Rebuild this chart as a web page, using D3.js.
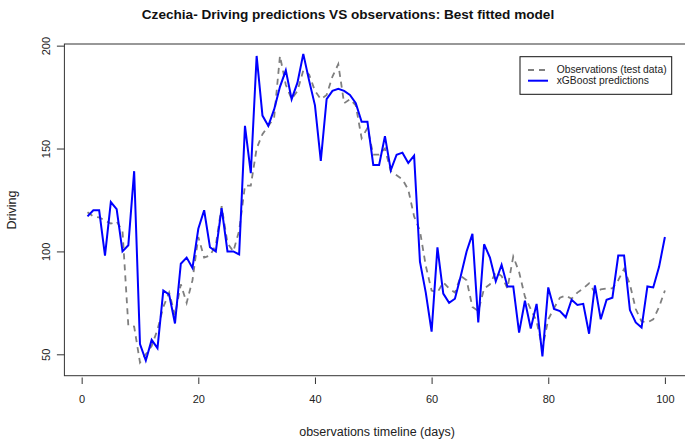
<!DOCTYPE html>
<html>
<head>
<meta charset="utf-8">
<script src="https://cdn.jsdelivr.net/npm/d3@7"></script>
<style>
  body { margin: 0; background: #fff; }
  text { font-family: "Liberation Sans", Arial, sans-serif; }
</style>
</head>
<body>
<div id="my_dataviz"></div>
<script>
// values, one per day (1..100)
var observations = [
  119, 117, 116.5, 115, 113.5, 114.5, 110, 64, 63.5, 46,
  50, 54, 62, 73, 80, 69, 84, 75, 86, 107,
  97, 98, 103, 122, 104, 100, 110, 132, 132, 150,
  157, 161, 165, 195, 181, 174, 178, 188, 186, 178,
  174, 176, 185, 191, 172, 174, 171, 155, 160, 147,
  147, 150, 139, 137, 135, 130, 117, 110, 93, 81,
  80, 85, 82, 80, 88, 86, 73, 71, 82, 84,
  90, 88, 82, 97.5, 90, 78, 72, 66, 53, 67,
  72.5, 77.5, 78.5, 77, 80, 82, 84.5, 80, 81.5, 82,
  82, 86, 91.5, 84, 72, 66, 65.5, 67, 73, 81
];
var predictions = [
  117, 120, 120, 98, 124, 120.5, 100, 103, 139, 55,
  47, 57, 53, 81, 79, 65, 94, 97, 92, 111,
  120, 102, 100, 121, 100, 100, 98.5, 161, 138, 195,
  166, 161, 169, 180, 188, 174, 182, 196, 183, 171,
  144, 174, 178, 179, 178, 176, 172, 163, 163, 142,
  142, 156, 139.5, 147, 148, 143, 146.5, 95, 80, 61,
  102, 79.5, 75, 77, 88, 100, 108.5, 65.5, 103.5, 97,
  85.5, 93.5, 83, 83, 60.5, 76, 62.5, 74.5, 49, 82.5,
  72, 71, 68, 76.5, 74, 74.5, 60, 83.5, 67, 76.5,
  77.5, 98, 98, 71.5, 65.5, 63, 83, 82.5, 92.5, 107
];
var xTicks = [0, 20, 40, 60, 80, 100];
var yTicks = [50, 100, 150, 200];
var legendLabels = ["Observations (test data)", "xGBoost predictions"];

const width = 685,
  height = 445;

const svg = d3
  .select("#my_dataviz")
  .append("svg")
  .attr("width", width)
  .attr("height", height);

// R style: data range padded by 4%
var x = d3.scaleLinear().domain([-2.96, 103.96]).range([64.4, 688]);
var y = d3.scaleLinear().domain([39.6, 200.8]).range([375.7, 44]);

// title
svg
  .append("text")
  .attr("x", 348)
  .attr("y", 19.3)
  .attr("text-anchor", "middle")
  .attr("font-size", "13.6px")
  .attr("font-weight", "bold")
  .attr("fill", "#111")
  .text("Czechia- Driving predictions VS observations: Best fitted model");

// lines
var line = d3
  .line()
  .x(function (d, i) {
    return x(i + 1);
  })
  .y(function (d) {
    return y(d);
  });

svg
  .append("path")
  .datum(observations)
  .attr("d", line)
  .attr("fill", "none")
  .attr("stroke", "#7f7f7f")
  .attr("stroke-width", 1.8)
  .attr("stroke-dasharray", "6,5");

svg
  .append("path")
  .datum(predictions)
  .attr("d", line)
  .attr("fill", "none")
  .attr("stroke", "#0000ff")
  .attr("stroke-width", 2);

// plot box
svg
  .append("rect")
  .attr("x", x.range()[0])
  .attr("y", y.range()[1])
  .attr("width", x.range()[1] - x.range()[0])
  .attr("height", y.range()[0] - y.range()[1])
  .attr("fill", "none")
  .attr("stroke", "#333")
  .attr("stroke-width", 1);

// x axis (ticks sit a bit below the box)
var xAxis = svg
  .append("g")
  .attr("transform", "translate(0,377.5)")
  .call(d3.axisBottom(x).tickValues(xTicks).tickSize(6.5).tickPadding(11));
xAxis.select(".domain").remove();
xAxis.selectAll("line").attr("stroke", "#333");
xAxis
  .selectAll("text")
  .attr("font-family", "Liberation Sans, Arial, sans-serif")
  .attr("font-size", "11px")
  .attr("fill", "#222");

// y axis with rotated labels
var yAxis = svg
  .append("g")
  .attr("transform", "translate(" + x.range()[0] + ",0)")
  .call(d3.axisLeft(y).tickValues(yTicks).tickSize(7.5).tickPadding(0));
yAxis.select(".domain").remove();
yAxis.selectAll("line").attr("stroke", "#333");
yAxis
  .selectAll("text")
  .attr("font-family", "Liberation Sans, Arial, sans-serif")
  .attr("font-size", "11px")
  .attr("fill", "#222")
  .attr("x", null)
  .attr("dy", null)
  .attr("text-anchor", "middle")
  .attr("transform", "translate(-18.5,0) rotate(-90)")
  .attr("y", 0)
  .attr("dominant-baseline", "central");

// axis titles
svg
  .append("text")
  .attr("x", 377)
  .attr("y", 436)
  .attr("text-anchor", "middle")
  .attr("font-size", "12.5px")
  .attr("fill", "#222")
  .text("observations timeline (days)");

svg
  .append("text")
  .attr("transform", "translate(16,210) rotate(-90)")
  .attr("text-anchor", "middle")
  .attr("font-size", "12.5px")
  .attr("fill", "#222")
  .text("Driving");

// legend
var legend = svg.append("g").attr("transform", "translate(520,56.7)");
legend
  .append("rect")
  .attr("width", 151.7)
  .attr("height", 37.6)
  .attr("fill", "#fff")
  .attr("stroke", "#111")
  .attr("stroke-width", 1);

var styles = [
  { color: "#7f7f7f", dash: "6,5", w: 1.8 },
  { color: "#0000ff", dash: null, w: 2 }
];
legendLabels.forEach(function (lab, i) {
  var ly = 13.3 + i * 10.7;
  legend
    .append("line")
    .attr("x1", 8)
    .attr("x2", 28)
    .attr("y1", ly)
    .attr("y2", ly)
    .attr("stroke", styles[i].color)
    .attr("stroke-width", styles[i].w)
    .attr("stroke-dasharray", styles[i].dash);
  legend
    .append("text")
    .attr("x", 36.7)
    .attr("y", ly + 3.5)
    .attr("font-size", "10.3px")
    .attr("fill", "#222")
    .text(lab);
});
</script>
</body>
</html>
